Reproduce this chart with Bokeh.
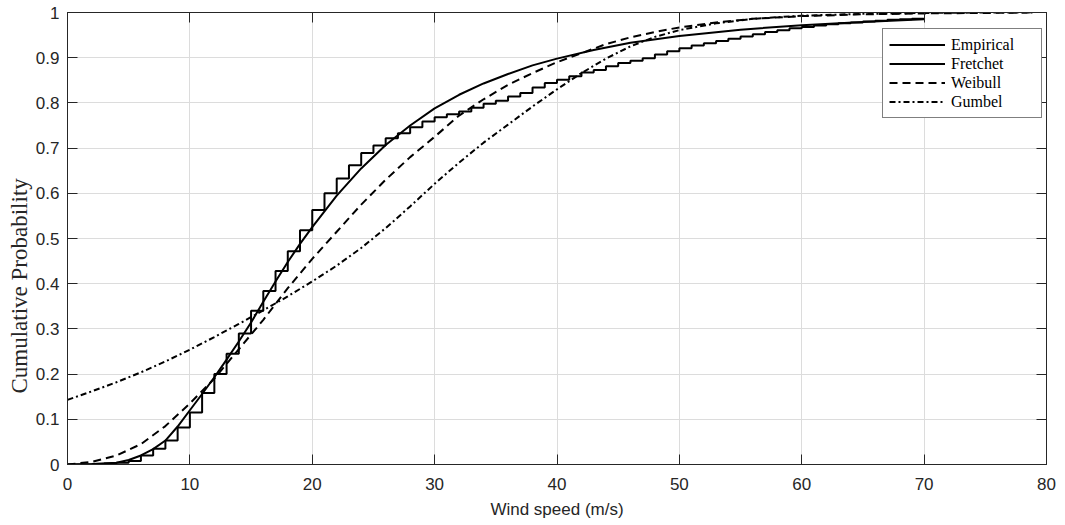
from bokeh.plotting import figure
from bokeh.models import (Range1d, FixedTicker, LinearAxis, CustomJSTickFormatter,
                          Legend, LegendItem, Title)
from bokeh.embed import file_html
from bokeh.resources import INLINE

# ---------------- data ----------------
emp_speed = list(range(0, 71))
emp_prob = [0.0, 0.0, 0.001, 0.002, 0.004, 0.008, 0.02, 0.035, 0.053, 0.082,
            0.115, 0.158, 0.2, 0.245, 0.29, 0.34, 0.384, 0.428, 0.472, 0.518,
            0.563, 0.6, 0.633, 0.662, 0.689, 0.706, 0.722, 0.733, 0.746, 0.759,
            0.768, 0.775, 0.781, 0.789, 0.798, 0.805, 0.814, 0.822, 0.834, 0.844,
            0.851, 0.859, 0.867, 0.873, 0.881, 0.888, 0.893, 0.899, 0.907, 0.914,
            0.921, 0.927, 0.932, 0.937, 0.942, 0.947, 0.952, 0.957, 0.961, 0.965,
            0.968, 0.971, 0.974, 0.976, 0.978, 0.98, 0.982, 0.984, 0.985, 0.986,
            0.987]

fret_speed = [0, 2, 4, 5, 6, 7, 8, 9, 10, 11, 12, 13, 14, 15, 16, 17, 18, 19, 20,
              22, 24, 26, 28, 30, 32, 34, 36, 38, 40, 43, 46, 50, 55, 60, 65, 70]
fret_prob = [0.0, 0.001, 0.004, 0.01, 0.02, 0.034, 0.053, 0.084, 0.12, 0.156,
             0.193, 0.232, 0.272, 0.314, 0.36, 0.405, 0.448, 0.488, 0.525,
             0.595, 0.655, 0.707, 0.75, 0.788, 0.818, 0.843, 0.864, 0.883, 0.898,
             0.917, 0.933, 0.948, 0.962, 0.972, 0.979, 0.985]

weib_speed = [0, 2, 4, 6, 8, 10, 12, 14, 16, 18, 20, 22, 24, 26, 28, 30, 32, 34,
              36, 38, 40, 42, 44, 46, 48, 50, 53, 56, 60, 65, 70, 75, 79]
weib_prob = [0.0, 0.006, 0.02, 0.045, 0.085, 0.135, 0.19, 0.255, 0.32, 0.39,
             0.455, 0.515, 0.575, 0.63, 0.68, 0.725, 0.772, 0.808, 0.84, 0.866,
             0.89, 0.91, 0.93, 0.945, 0.957, 0.967, 0.978, 0.986, 0.992, 0.996,
             0.998, 0.999, 1.0]

gumb_speed = [0, 2, 4, 6, 8, 10, 12, 14, 16, 18, 20, 22, 24, 26, 28, 30, 32, 34,
              36, 38, 40, 42, 44, 46, 48, 50, 53, 56, 60, 65, 70, 75, 79]
gumb_prob = [0.143, 0.162, 0.182, 0.204, 0.228, 0.254, 0.282, 0.311, 0.341,
             0.372, 0.405, 0.44, 0.479, 0.523, 0.571, 0.621, 0.668, 0.712, 0.752,
             0.792, 0.83, 0.866, 0.898, 0.925, 0.946, 0.961, 0.976, 0.986, 0.993,
             0.997, 0.999, 1.0, 1.0]

x_ticks = [0, 10, 20, 30, 40, 50, 60, 70, 80]
y_ticks = [0, 0.1, 0.2, 0.3, 0.4, 0.5, 0.6, 0.7, 0.8, 0.9, 1]
series_names = ["Empirical", "Fretchet", "Weibull", "Gumbel"]
x_title = "Wind speed (m/s)"
y_title = "Cumulative Probability"

# ---------------- figure ----------------
AX = "#262626"
p = figure(width=1065, height=525, output_backend="svg", toolbar_location=None,
           x_range=Range1d(0, 80), y_range=Range1d(0, 1),
           min_border_left=67, min_border_right=19, min_border_top=12,
           min_border_bottom=61, background_fill_color="white",
           border_fill_color="white")
p.outline_line_color = AX
p.outline_line_width = 1

for g in p.grid:
    g.grid_line_color = "#dcdcdc"
    g.grid_line_width = 1
p.xgrid.ticker = FixedTicker(ticks=x_ticks)
p.ygrid.ticker = FixedTicker(ticks=y_ticks)

fmt = CustomJSTickFormatter(code="return String(Math.round(tick*10)/10);")
blank = CustomJSTickFormatter(code="return '';")

xa = p.xaxis[0]
xa.ticker = FixedTicker(ticks=x_ticks)
xa.axis_label = x_title
xa.axis_label_text_font = "Liberation Sans"
xa.axis_label_text_font_size = "17px"
xa.axis_label_text_font_style = "normal"
xa.axis_label_text_color = AX
xa.axis_label_standoff = 7
xa.major_label_standoff = 13

ya = p.yaxis[0]
ya.ticker = FixedTicker(ticks=y_ticks)
ya.formatter = fmt
ya.major_label_standoff = 8

for ax in (xa, ya):
    ax.major_label_text_font = "Liberation Sans"
    ax.major_label_text_font_size = "17px"
    ax.major_label_text_color = AX
    ax.axis_line_color = AX
    ax.major_tick_line_color = AX
    ax.major_tick_in = 10
    ax.major_tick_out = 0
    ax.minor_tick_line_color = None

# y title as a side-panel Title, shifted down from the middle as in the reference
ytitle = Title(text=y_title, align="left", offset=71, standoff=2,
               text_font="Liberation Serif", text_font_size="23px",
               text_font_style="normal", text_color=AX)
p.add_layout(ytitle, "left")

top_ax = LinearAxis(ticker=FixedTicker(ticks=x_ticks), formatter=blank)
right_ax = LinearAxis(ticker=FixedTicker(ticks=y_ticks), formatter=blank)
for ax in (top_ax, right_ax):
    ax.major_label_text_font_size = "0px"
    ax.major_label_standoff = 0
    ax.axis_line_color = AX
    ax.major_tick_line_color = AX
    ax.major_tick_in = 10
    ax.major_tick_out = 0
    ax.minor_tick_line_color = None
p.add_layout(top_ax, "above")
p.add_layout(right_ax, "right")

# ---------------- series ----------------
r_emp = p.step(x=emp_speed, y=emp_prob, mode="after", line_color="black",
               line_width=2)
r_fre = p.line(x=fret_speed, y=fret_prob, line_color="black", line_width=2)
r_wei = p.line(x=weib_speed, y=weib_prob, line_color="black", line_width=2,
               line_dash="8 5")
r_gum = p.line(x=gumb_speed, y=gumb_prob, line_color="black", line_width=2,
               line_dash="6 3 2 3")

legend = Legend(items=[LegendItem(label=n, renderers=[r])
                       for n, r in zip(series_names, [r_emp, r_fre, r_wei, r_gum])],
                location=(815, 346))
legend.margin = 0
legend.padding = 6
legend.spacing = 0
legend.glyph_width = 56
legend.glyph_height = 19
legend.label_height = 19
legend.label_width = 84
legend.label_standoff = 6
legend.label_text_font = "Liberation Serif"
legend.label_text_font_size = "16px"
legend.label_text_line_height = 1.0
legend.label_text_color = "black"
legend.border_line_color = "black"
legend.border_line_width = 1
legend.background_fill_color = "white"
legend.background_fill_alpha = 1
p.add_layout(legend)

open("out.html", "w").write(file_html(p, INLINE))
